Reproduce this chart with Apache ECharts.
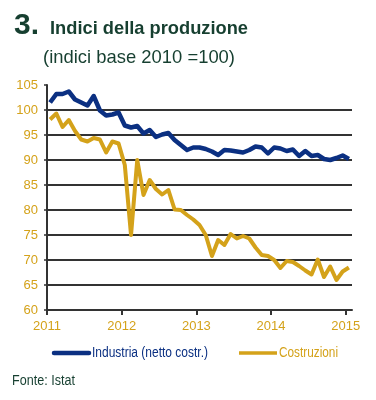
<!DOCTYPE html>
<html>
<head>
<meta charset="utf-8">
<script src="https://cdn.jsdelivr.net/npm/echarts@6/dist/echarts.min.js"></script>
<style>
html,body{margin:0;padding:0;background:#fff;}
#c{width:376px;height:400px;}
</style>
</head>
<body>
<div id="c"></div>
<script>
// Tick labels (years) placed every 12 months
var yearLabels = ['2011', '2012', '2013', '2014', '2015'];
// Monthly indices, Jan 2011 .. Jan 2015
var industria = [101.5, 103.2, 103.2, 103.7, 102.1, 101.5, 100.9, 102.8, 99.9, 98.9, 99.1, 99.5,
  96.9, 96.5, 96.8, 95.3, 96.0, 94.6, 95.1, 95.4, 94.0, 93.0, 92.0, 92.5,
  92.5, 92.2, 91.7, 91.0, 92.0, 91.9, 91.7, 91.5, 92.0, 92.7, 92.5, 91.3,
  92.5, 92.3, 91.8, 92.1, 90.8, 91.8, 90.8, 91.0, 90.2, 90.0, 90.4, 90.9,
  90.2];
var costruzioni = [98.1, 99.3, 96.6, 98.0, 95.8, 94.1, 93.7, 94.4, 94.1, 91.5, 93.7, 93.3,
  89.0, 75.0, 90.0, 83.0, 86.0, 84.2, 83.1, 84.0, 80.1, 80.0, 79.0, 78.1,
  77.0, 75.0, 70.8, 74.0, 73.0, 75.2, 74.3, 74.8, 74.3, 72.5, 71.0, 70.8,
  70.0, 68.4, 69.8, 69.6, 68.8, 67.9, 67.1, 70.1, 66.6, 68.7, 66.0, 67.7,
  68.5];
var seriesNames = ['Industria (netto costr.)', 'Costruzioni'];
var titleText = 'Indici della produzione';
var subtitleText = '(indici base 2010 =100)';
var sourceText = 'Fonte: Istat';

function toPoints(arr) {
  return arr.map(function (v, i) { return [i + 0.5, v]; });
}

var gold = '#d4a21a';
var navy = '#0b3082';
var darkGreen = '#163f30';
var font = "'Liberation Sans', Arial, sans-serif";

var ctx = document.createElement('canvas').getContext('2d');
function fitScale(text, f, targetW) {
  ctx.font = f;
  return targetW / ctx.measureText(text).width;
}
function squeezedText(text, f, x, y, targetW, color) {
  return {type: 'text', x: x, y: y, scaleX: fitScale(text, f, targetW), scaleY: 1,
    style: {text: text, font: f, fill: color, textAlign: 'left', textVerticalAlign: 'middle'}};
}

var fTitle = "bold 19px " + font;
var fSub = "19px " + font;
var fSmall = "14px " + font;

var chart = echarts.init(document.getElementById('c'), null, {renderer: 'canvas'});
chart.setOption({
  animation: false,
  backgroundColor: '#ffffff',
  graphic: [
    {type: 'text', x: 14, y: 26, style: {text: '3.', font: "900 30px " + font, fill: darkGreen, textVerticalAlign: 'middle'}},
    squeezedText(titleText, fTitle, 50, 29, 198, darkGreen),
    squeezedText(subtitleText, fSub, 43, 58, 192, darkGreen),
    // legend
    {type: 'line', shape: {x1: 54, y1: 353, x2: 89, y2: 353}, style: {stroke: navy, lineWidth: 4.5, lineCap: 'round'}},
    squeezedText(seriesNames[0], fSmall, 92, 353, 116, navy),
    {type: 'line', shape: {x1: 239, y1: 353, x2: 277, y2: 353}, style: {stroke: gold, lineWidth: 3.5, lineCap: 'butt'}},
    squeezedText(seriesNames[1], fSmall, 279, 353, 59, gold),
    squeezedText(sourceText, fSmall, 12, 381, 63, darkGreen)
  ],
  grid: {left: 47, right: 24, top: 85, bottom: 90, containLabel: false},
  xAxis: {
    type: 'value', min: 0, max: 49, interval: 12,
    axisLine: {show: true, lineStyle: {color: '#333', width: 2}},
    axisTick: {show: true, inside: false, length: 5, customValues: [0, 12, 24, 36, 48], lineStyle: {color: '#333', width: 2}},
    axisLabel: {
      customValues: [0, 12, 24, 36, 48], margin: 10,
      color: gold, fontFamily: font, fontSize: 13,
      formatter: function (v) { return yearLabels[Math.round(v / 12)] || ''; }
    },
    splitLine: {show: false}
  },
  yAxis: {
    type: 'value', min: 60, max: 105, interval: 5,
    axisLine: {show: true, lineStyle: {color: '#333', width: 2}},
    axisTick: {show: true, length: 3, lineStyle: {color: '#333', width: 1.5}},
    axisLabel: {color: gold, fontFamily: font, fontSize: 13, margin: 9},
    splitLine: {show: true, lineStyle: {color: ['#333', '#333', '#333', '#333', '#333', '#333', '#333', '#333', '#333', 'rgba(0,0,0,0)'], width: 2}}
  },
  series: [
    {name: seriesNames[0], type: 'line', data: toPoints(industria), showSymbol: false, symbol: 'none',
      lineStyle: {color: navy, width: 4.5, join: 'round'}, itemStyle: {color: navy}, z: 3},
    {name: seriesNames[1], type: 'line', data: toPoints(costruzioni), showSymbol: false, symbol: 'none',
      lineStyle: {color: gold, width: 4, join: 'round'}, itemStyle: {color: gold}, z: 2}
  ]
});
</script>
</body>
</html>
